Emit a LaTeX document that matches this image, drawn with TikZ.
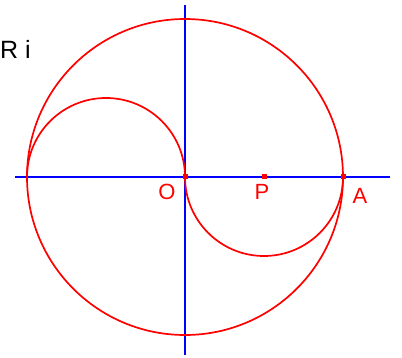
\documentclass[tikz,border=0pt]{standalone}
\usepackage{fontspec}
\setmainfont{Liberation Sans}
\begin{document}
\begin{tikzpicture}[x=1pt,y=-1pt,
  axis/.style={blue,line width=1.7pt},
  curve/.style={red,line width=1.7pt},
  pt/.style={fill=red,inner sep=0pt,minimum size=5pt,draw=none},
  lbl/.style={red,font=\fontsize{22}{26}\selectfont,inner sep=0pt}]
\useasboundingbox (0,0) rectangle (402,358);
\coordinate (L) at (15,177);
\coordinate (R) at (390,177);
\coordinate (T) at (185,5);
\coordinate (B) at (185,355);
\draw[axis] (L) -- (R);
\draw[axis] (T) -- (B);
\node[pt] (O) at (185,177) {};
\node[pt] (P) at (264,177) {};
\node[pt] (A) at (343,177) {};
\draw[curve] (O.center) circle[radius=158];
\draw[curve] (185,177) arc[start angle=0,end angle=-180,radius=79];
\draw[curve] (185,177) arc[start angle=180,end angle=0,radius=79];
\node[lbl] (Ol) at (167,192) {O};
\node[lbl] (Pl) at (262,192) {P};
\node[lbl] (Al) at (360,196) {A};
\node[black,font=\fontsize{25}{30}\selectfont,inner sep=0pt,anchor=west] (Ri) at (0,49) {R i};
\end{tikzpicture}
\end{document}
